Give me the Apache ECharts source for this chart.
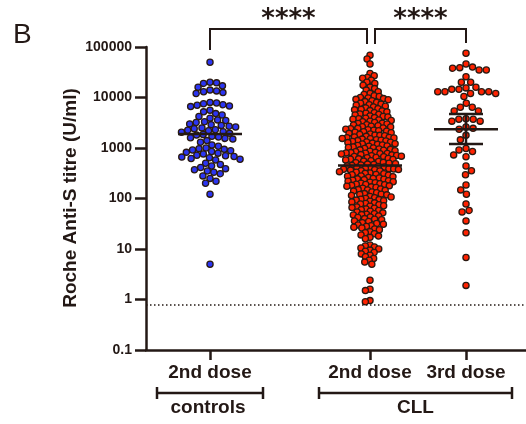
<!DOCTYPE html>
<html><head><meta charset="utf-8">
<script src="https://cdn.jsdelivr.net/npm/echarts@6/dist/echarts.min.js"></script>
<style>html,body{margin:0;padding:0;background:#fff}#c{width:526px;height:424px}</style>
</head><body><div id="c"></div>
<script>
// ---------------- data ----------------
const categories = ['2nd dose', '2nd dose', '3rd dose'];
const groupLabels = ['controls', 'CLL'];
const catX = [2, 7, 10];
const yTicks = [0.1, 1, 10, 100, 1000, 10000, 100000];
const yTitle = 'Roche Anti-S titre (U/ml)';
const panelLabel = 'B';
const sigLabels = ['****', '****'];
const detectionLimit = 0.8;

const controls = [
  50000,
  20000, 19500, 19000, 17000, 16000,
  14000, 13500, 13000, 12500, 12000,
  8000, 7800, 7500, 7200, 7000, 6800, 6600,
  5600, 5200, 4800, 4500, 4200, 3900, 3600, 3500,
  3300, 3200, 3000, 2900, 2800, 2700, 2600, 2500, 2400, 2300, 2250, 2200, 2100, 2050,
  1950, 1850, 1800, 1700, 1650, 1600, 1550, 1500, 1400, 1300,
  1150, 1080, 1000, 970, 940, 910, 880, 850, 820, 790, 760,
  720, 700, 680, 660, 640, 620, 600, 580,
  500, 470, 440, 410, 390, 370, 350, 330,
  310, 280, 250, 220, 200,
  122, 5
];

const cll2nd = [
  69000, 58000, 46000,
  30000, 27000, 25000, 24000,
  22000, 20000, 19000, 17500, 16000, 15000, 14000, 13000, 12000, 11500,
  10800, 10500, 10000, 9800, 9500, 9200, 9000, 8600, 8300, 8000, 7700, 7400, 7200, 7000, 6700, 6500, 6200, 6000, 5800, 5700,
  5500, 5400, 5200, 5000, 4900, 4700, 4600, 4500, 4300, 4200, 4100, 4000, 3900, 3800, 3700, 3600, 3500, 3400, 3300, 3200, 3100, 3050, 3000, 2900, 2850,
  2750, 2700, 2650, 2600, 2500, 2450, 2400, 2350, 2300, 2250, 2200, 2150, 2100, 2050, 2000, 1950, 1900, 1850, 1800, 1780, 1750, 1700, 1650, 1620, 1600, 1580, 1550, 1520, 1500, 1460,
  1420, 1400, 1380, 1350, 1320, 1300, 1280, 1250, 1220, 1200, 1180, 1150, 1120, 1100, 1080, 1050, 1020, 1000, 980, 960, 940, 920, 900, 880, 860, 840, 820, 810, 800, 790, 780, 770, 760, 740, 730,
  710, 700, 690, 680, 670, 650, 640, 620, 610, 600, 590, 580, 560, 550, 540, 520, 510, 500, 490, 480, 470, 460, 450, 440, 430, 420, 410, 400, 395, 390, 385, 380, 375, 370, 365,
  355, 350, 340, 330, 320, 315, 310, 300, 295, 290, 280, 275, 270, 260, 255, 250, 245, 240, 235, 230, 225, 220, 215, 210, 205, 200, 196, 192, 190, 187,
  182, 178, 175, 170, 165, 160, 155, 150, 148, 145, 140, 135, 130, 125, 122, 120, 118, 115, 110, 107, 104, 100, 97, 95, 93,
  90, 88, 85, 82, 80, 78, 75, 72, 70, 68, 66, 64, 62, 60, 58, 56, 54, 52, 50, 49, 48, 47,
  45, 43, 42, 40, 39, 38, 36, 35, 33, 32, 31, 30, 29, 28, 27, 26, 25, 24,
  22, 21, 20, 19, 18, 17, 16,
  12, 11.5, 11, 10.5, 10, 9.5, 9, 8.5, 8, 7.5, 7, 6.5, 6, 5.5, 5,
  2.4, 1.6, 1.5, 0.95, 0.9
];

const cll3rd = [
  75000,
  46000, 40000, 39000, 38000, 35000, 35000,
  25700, 20000, 20000, 16000,
  15500, 14500, 14500, 13000, 13000, 13000, 13000, 12000, 12000, 10500,
  7700, 6400, 6400, 5400, 5400,
  3800, 3700, 3700, 3400, 3400,
  2600, 2450, 2350,
  1780, 1450,
  980, 910, 850, 730, 670,
  440, 355, 295,
  185, 148, 121,
  78, 58, 54, 36, 21,
  6.8, 1.9
];

const medians = [1900, 450, 2350];
const ciLow = [null, null, 1200];
const ciHigh = [null, null, 4700];

const seriesData = [controls, cll2nd, cll3rd];
const fills = ['#2b35f2', '#ff2200', '#ff2200'];
const spacing = [6.6, 4.8, 7.2];
const INK = '#231815';
const EDGE = '#2a1a12';

// ---------------- chart ----------------
const chart = echarts.init(document.getElementById('c'), null, {renderer: 'canvas'});
const FONT = '"Liberation Sans", Arial, sans-serif';

const base = {
  animation: false,
  backgroundColor: '#fff',
  grid: {left: 146, right: 0, top: 47, bottom: 74, containLabel: false},
  xAxis: {
    type: 'value', min: 0, max: 11.875,
    splitLine: {show: false},
    axisLine: {show: true, onZero: false, lineStyle: {color: INK, width: 2.5}},
    axisTick: {show: true, customValues: catX, length: 10, inside: false, lineStyle: {color: INK, width: 2.5}},
    axisLabel: {show: true, customValues: catX, margin: 13,
      formatter: v => categories[catX.indexOf(Math.round(v))] || '',
      fontFamily: FONT, fontWeight: 'bold', fontSize: 19, color: INK}
  },
  yAxis: {
    type: 'log', logBase: 10, min: yTicks[0], max: yTicks[yTicks.length - 1],
    splitLine: {show: false},
    minorTick: {show: false},
    axisLine: {show: true, lineStyle: {color: INK, width: 2.5}},
    axisTick: {show: true, length: 11, lineStyle: {color: INK, width: 2.5}},
    axisLabel: {margin: 14, fontFamily: FONT, fontWeight: 'bold', fontSize: 14, color: INK,
      formatter: v => (v < 1 ? Number(v).toFixed(1) : String(Math.round(v)))}
  },
  series: []
};
chart.setOption(base);

function swarm(values, d) {
  const pts = values.map(v => ({v: v, y: chart.convertToPixel({yAxisIndex: 0}, v), x: 0}));
  const order = pts.slice().sort((a, b) => a.y - b.y);
  const placed = [];
  order.forEach((p, k) => {
    const near = placed.filter(q => Math.abs(q.y - p.y) < d);
    const cands = [0];
    near.forEach(q => {
      const dx = Math.sqrt(d * d - (q.y - p.y) * (q.y - p.y));
      cands.push(q.x + dx, q.x - dx);
    });
    cands.sort((a, b) => Math.abs(a) - Math.abs(b) || (k % 2 ? a - b : b - a));
    for (const c of cands) {
      if (near.every(q => (q.x - c) * (q.x - c) + (q.y - p.y) * (q.y - p.y) >= d * d - 0.01)) { p.x = c; break; }
    }
    placed.push(p);
  });
  return pts;
}

const series = [];
seriesData.forEach((vals, i) => {
  const pts = swarm(vals, spacing[i]);
  series.push({
    type: 'custom', name: 'g' + i, z: 3,
    data: pts.map(p => [catX[i], p.v, p.x]),
    renderItem: (params, api) => {
      const c = api.coord([api.value(0), api.value(1)]);
      return {type: 'circle', shape: {cx: c[0] + api.value(2), cy: c[1], r: 3.1},
        style: {fill: fills[i], stroke: EDGE, lineWidth: 1.3}};
    }
  });
});

// median + CI
series.push({
  type: 'custom', name: 'median', z: 5,
  data: catX.map((x, i) => [x, medians[i], ciLow[i] == null ? NaN : ciLow[i], ciHigh[i] == null ? NaN : ciHigh[i]]),
  renderItem: (params, api) => {
    const x = api.value(0);
    const m = api.coord([x, api.value(1)]);
    const children = [{type: 'line', shape: {x1: m[0] - 32, y1: m[1], x2: m[0] + 32, y2: m[1]}, style: {stroke: INK, lineWidth: 2.5}}];
    const lo = api.value(2), hi = api.value(3);
    if (!isNaN(lo) && !isNaN(hi)) {
      const a = api.coord([x, lo]), b = api.coord([x, hi]);
      children.push({type: 'line', shape: {x1: a[0], y1: a[1], x2: b[0], y2: b[1]}, style: {stroke: INK, lineWidth: 2.5}});
      children.push({type: 'line', shape: {x1: a[0] - 17, y1: a[1], x2: a[0] + 17, y2: a[1]}, style: {stroke: INK, lineWidth: 2.5}});
      children.push({type: 'line', shape: {x1: b[0] - 17, y1: b[1], x2: b[0] + 17, y2: b[1]}, style: {stroke: INK, lineWidth: 2.5}});
    }
    return {type: 'group', children: children};
  }
});

// detection limit dotted line
series.push({
  type: 'line', data: [], z: 1,
  markLine: {silent: true, symbol: 'none', label: {show: false},
    lineStyle: {color: INK, type: [1.5, 2.5], width: 1.5},
    data: [{yAxis: detectionLimit}]}
});

const px = catX.map(x => chart.convertToPixel({xAxisIndex: 0}, x));
const ln = (x1, y1, x2, y2, w) => ({type: 'line', shape: {x1, y1, x2, y2}, style: {stroke: INK, lineWidth: w}, z: 10});
const topY = 29;
const graphic = [
  {type: 'text', left: 13, top: 21, style: {text: panelLabel, font: '28px ' + FONT, fill: INK}},
  {type: 'text', x: 71, y: 198, rotation: Math.PI / 2,
    style: {text: yTitle, font: 'bold 19px ' + FONT, fill: INK, align: 'center', verticalAlign: 'middle'}},
  // significance brackets
  {type: 'polyline', shape: {points: [[px[0], 50], [px[0], topY], [px[1] - 3, topY], [px[1] - 3, 44]]}, style: {stroke: INK, lineWidth: 2, fill: null}},
  {type: 'polyline', shape: {points: [[px[1] + 5, 44], [px[1] + 5, topY], [px[2], topY], [px[2], 43]]}, style: {stroke: INK, lineWidth: 2, fill: null}},
  {type: 'text', x: (px[0] + px[1] - 3) / 2, y: 20, style: {text: sigLabels[0], font: 'bold 26px "DejaVu Sans"', fill: INK, align: 'center', verticalAlign: 'middle'}},
  {type: 'text', x: (px[1] + 5 + px[2]) / 2, y: 20, style: {text: sigLabels[1], font: 'bold 26px "DejaVu Sans"', fill: INK, align: 'center', verticalAlign: 'middle'}},
  // group brackets
  ln(px[0] - 53, 393, px[0] + 53, 393, 2.5),
  ln(px[0] - 53, 387, px[0] - 53, 399, 2.5),
  ln(px[0] + 53, 387, px[0] + 53, 399, 2.5),
  ln(px[1] - 51, 393, px[2] + 46, 393, 2.5),
  ln(px[1] - 51, 387, px[1] - 51, 399, 2.5),
  ln(px[2] + 46, 387, px[2] + 46, 399, 2.5),
  {type: 'text', x: px[0] - 2, y: 408, style: {text: groupLabels[0], font: 'bold 19px ' + FONT, fill: INK, align: 'center', verticalAlign: 'middle'}},
  {type: 'text', x: (px[1] - 51 + px[2] + 46) / 2, y: 408, style: {text: groupLabels[1], font: 'bold 19px ' + FONT, fill: INK, align: 'center', verticalAlign: 'middle'}}
];

chart.setOption({series: series, graphic: graphic});
</script></body></html>
